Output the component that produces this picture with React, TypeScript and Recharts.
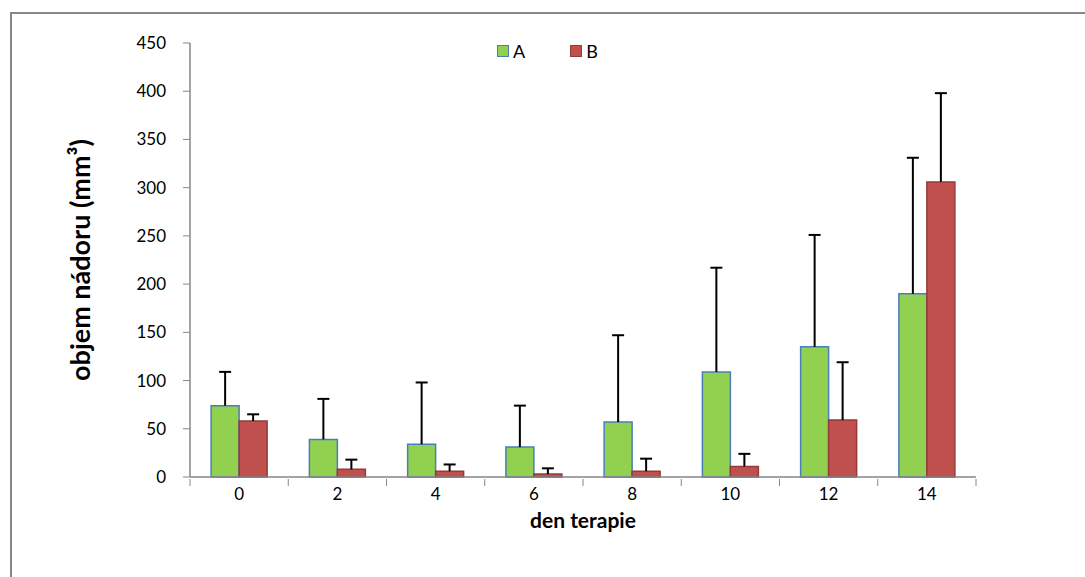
import type { FC } from 'react'
import { BarChart, Bar, XAxis, YAxis, Legend, Label } from 'recharts'

// tumour volume per therapy day, two groups, with +SD whiskers
const days = ['0', '2', '4', '6', '8', '10', '12', '14']
const volumeA = [74, 39, 34, 31, 57, 109, 135, 190]
const sdA = [35, 42, 64, 43, 90, 108, 116, 141]
const volumeB = [58, 8, 6, 3, 6, 11, 59, 306]
const sdB = [7, 10, 7, 6, 13, 13, 60, 92]
const yTicks = [0, 50, 100, 150, 200, 250, 300, 350, 400, 450]

const CHART_W = 1085
const CHART_H = 577
const MARGIN = { top: 43, right: 109, bottom: 40, left: 0 }
const Y_AXIS_W = 190
const PLOT_W = CHART_W - MARGIN.left - MARGIN.right - Y_AXIS_W
const STEP = PLOT_W / days.length
const TICK = 7

const FONT = 'Lato, "Open Sans", sans-serif'
const AXIS_GREY = '#868686'

const colors = {
  aFill: '#92D050',
  aStroke: '#4A7EBB',
  bFill: '#C0504D',
  bStroke: '#953A37',
}

const chartData = days.map((day, i) => ({
  day,
  a: volumeA[i],
  aErr: sdA[i],
  b: volumeB[i],
  bErr: sdB[i],
}))

// the SD segment is stacked on top of each bar and drawn as a whisker
const Whisker = (props: any) => {
  const { x, y, width, height } = props
  if (height == null || width == null) return null
  const cx = x + width / 2
  return (
    <g stroke="#000" strokeWidth={2}>
      <line x1={cx} y1={y} x2={cx} y2={y + height} />
      <line x1={cx - 6} y1={y} x2={cx + 6} y2={y} />
    </g>
  )
}

// Excel style: tick marks sit between the categories
const DayTick = (props: any) => {
  const { x, y, payload, index } = props
  const axisY = y - TICK
  return (
    <g>
      <line x1={x - STEP / 2} y1={axisY} x2={x - STEP / 2} y2={axisY + TICK} stroke={AXIS_GREY} />
      {index === days.length - 1 && (
        <line x1={x + STEP / 2} y1={axisY} x2={x + STEP / 2} y2={axisY + TICK} stroke={AXIS_GREY} />
      )}
      <text x={x} y={y + 2} dy="0.71em" textAnchor="middle" fill="#000" fontSize={17} fontFamily={FONT}>
        {payload.value}
      </text>
    </g>
  )
}

const YTitle = (props: any) => {
  const vb = props.viewBox || {}
  const cy = (vb.y ?? 0) + (vb.height ?? 0) / 2
  const cx = 79
  return (
    <text
      x={cx}
      y={cy}
      transform={`rotate(-90 ${cx} ${cy})`}
      textAnchor="middle"
      dominantBaseline="central"
      fontSize={27}
      fontWeight="bold"
      fontFamily={FONT}
      fill="#000"
    >
      objem nádoru (mm³)
    </text>
  )
}

const LegendBox: FC = () => {
  const item = (fill: string, stroke: string, text: string, gap: number) => (
    <div style={{ display: 'flex', alignItems: 'center', marginRight: gap }}>
      <span
        style={{
          display: 'inline-block',
          width: 10,
          height: 10,
          background: fill,
          border: `1.5px solid ${stroke}`,
          marginRight: 4,
        }}
      />
      <span style={{ fontSize: 18, fontFamily: FONT, color: '#000' }}>{text}</span>
    </div>
  )
  return (
    <div style={{ display: 'flex', alignItems: 'center' }}>
      {item(colors.aFill, colors.aStroke, 'A', 45)}
      {item(colors.bFill, colors.bStroke, 'B', 0)}
    </div>
  )
}

export default function App() {
  return (
    <div style={{ position: 'absolute', left: 0, top: 0, width: CHART_W, height: CHART_H, overflow: 'hidden', background: '#fff' }}>
      <div
        style={{
          position: 'absolute',
          left: 10,
          top: 12,
          width: CHART_W + 20,
          height: CHART_H + 20,
          border: '2px solid #878787',
        }}
      />
      <div style={{ position: 'absolute', left: 0, top: 0 }}>
        <BarChart
          width={CHART_W}
          height={CHART_H}
          data={chartData}
          margin={MARGIN}
          barCategoryGap="21.5%"
          barGap={0}
        >
          <XAxis
            dataKey="day"
            height={60}
            axisLine={{ stroke: AXIS_GREY, strokeWidth: 1.5 }}
            tickLine={false}
            tickSize={TICK}
            tick={<DayTick />}
            interval={0}
          >
            <Label
              value="den terapie"
              position="insideBottom"
              offset={9}
              style={{ fontSize: 21, fontWeight: 'bold', fontFamily: FONT, fill: '#000' }}
            />
          </XAxis>
          <YAxis
            width={Y_AXIS_W}
            domain={[0, 450]}
            ticks={yTicks}
            interval={0}
            axisLine={{ stroke: AXIS_GREY, strokeWidth: 1.5 }}
            tickLine={{ stroke: AXIS_GREY }}
            tickSize={TICK}
            tickMargin={17}
            tick={{ fill: '#000', fontSize: 17, fontFamily: FONT }}
          >
            <Label content={<YTitle />} />
          </YAxis>
          <Legend
            layout="horizontal"
            verticalAlign="middle"
            align="center"
            wrapperStyle={{ top: 40, left: 497, width: 'auto' }}
            content={<LegendBox />}
          />
          <Bar dataKey="a" stackId="a" fill={colors.aFill} stroke={colors.aStroke} strokeWidth={1.5} isAnimationActive={false} />
          <Bar dataKey="aErr" stackId="a" shape={<Whisker />} legendType="none" isAnimationActive={false} />
          <Bar dataKey="b" stackId="b" fill={colors.bFill} stroke={colors.bStroke} strokeWidth={1.5} isAnimationActive={false} />
          <Bar dataKey="bErr" stackId="b" shape={<Whisker />} legendType="none" isAnimationActive={false} />
        </BarChart>
      </div>
    </div>
  )
}
